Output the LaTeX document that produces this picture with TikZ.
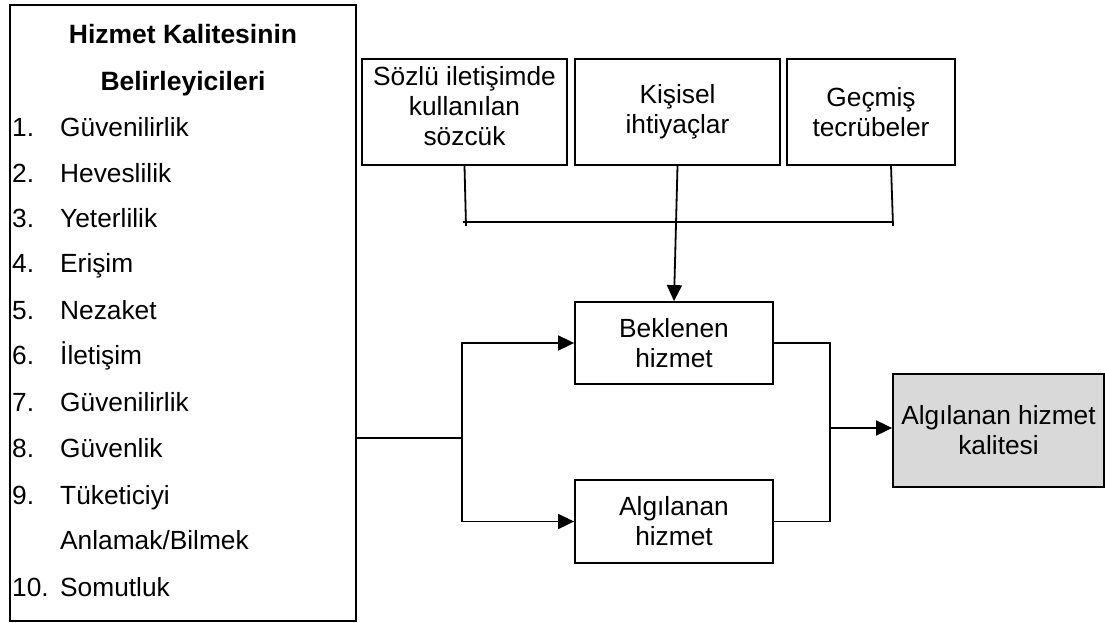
\documentclass[tikz,border=0pt]{standalone}
\usepackage{fontspec}
\setmainfont{Liberation Sans}
\usetikzlibrary{arrows.meta,calc}

\tikzset{
  box/.style={draw, line width=1.8pt, inner sep=0pt, align=center, font=\fontsize{26.3}{30}\selectfont},
  txt/.style={inner sep=0pt, align=center, font=\fontsize{26.3}{30}\selectfont},
  item/.style={inner sep=0pt, anchor=base west, font=\fontsize{26.3}{30}\selectfont},
  heading/.style={inner sep=0pt, anchor=base, font=\fontsize{26.5}{30}\selectfont\bfseries},
  link/.style={line width=1.8pt},
  arrow/.style={line width=1.8pt, -{Triangle[length=16pt,width=15pt]}}
}

\begin{document}
\begin{tikzpicture}[x=1pt, y=-1pt]
  \useasboundingbox (0,0) rectangle (1105,623);

  % determinants list
  \node[box, minimum width=346pt, minimum height=616pt] (factors) at (183,313) {};
  \node[heading] (h1) at (183,44) {Hizmet Kalitesinin};
  \node[heading] (h2) at (183,91) {Belirleyicileri};
  \foreach \n/\t/\y [count=\k] in {
      1./Güvenilirlik/127, 2./Heveslilik/173, 3./Yeterlilik/218,
      4./Erişim/263, 5./Nezaket/310, 6./İletişim/355,
      7./Güvenilirlik/402, 8./Güvenlik/448, 9./Tüketiciyi/495} {
    \node[item] (num\k) at (12,\y+9) {\n};
    \node[item] (it\k) at (60,\y+9) {\t};
  }
  \node[item] (it9b) at (60,549) {Anlamak/Bilmek};
  \node[item] (num10) at (12,596) {10.};
  \node[item] (it10) at (60,596) {Somutluk};

  % expectation sources
  \node[box, minimum width=205pt, minimum height=106pt] (b1) at (464.5,112) {};
  \node[txt] (b1t) at (464.5,106) {Sözlü iletişimde\\kullanılan\\sözcük};
  \node[box, minimum width=205pt, minimum height=106pt] (b2) at (677.5,112) {Kişisel\\ihtiyaçlar};
  \node[box, minimum width=168pt, minimum height=106pt] (b3) at (871,112) {Geçmiş\\tecrübeler};

  % service boxes
  \node[box, minimum width=198pt, minimum height=82pt] (bek) at (674,343) {Beklenen\\hizmet};
  \node[box, minimum width=198pt, minimum height=83pt] (alg) at (674,521.5) {Algılanan\\hizmet};
  \node[box, fill={rgb,255:red,217;green,217;blue,217}, minimum width=211pt, minimum height=113pt] (res) at (998.5,430.5) {Algılanan hizmet\\kalitesi};

  % bracket joining the sources
  \coordinate (bl) at (466,226);
  \coordinate (br) at (893,226);
  \coordinate (bar) at (0,222);
  \draw[link] (b1.south) -- (bl);
  \draw[link] (891,165) -- (br);
  \draw[link] (bl |- bar) ++(-3,0) -- (br |- bar);
  \draw[arrow] (b2.south) -- (bek.north);

  % split towards the two service boxes
  \coordinate (split) at (462,438);
  \draw[link] (factors.east |- split) -- (split);
  \draw[arrow] (split) |- (bek.west);
  \draw[arrow] (split) |- (alg.west);

  % join towards perceived quality
  \coordinate (join) at (830,428);
  \draw[link] (bek.east) -| (join);
  \draw[link] (alg.east) -| (join);
  \draw[arrow] (join) -- (res.west |- join);
\end{tikzpicture}
\end{document}
